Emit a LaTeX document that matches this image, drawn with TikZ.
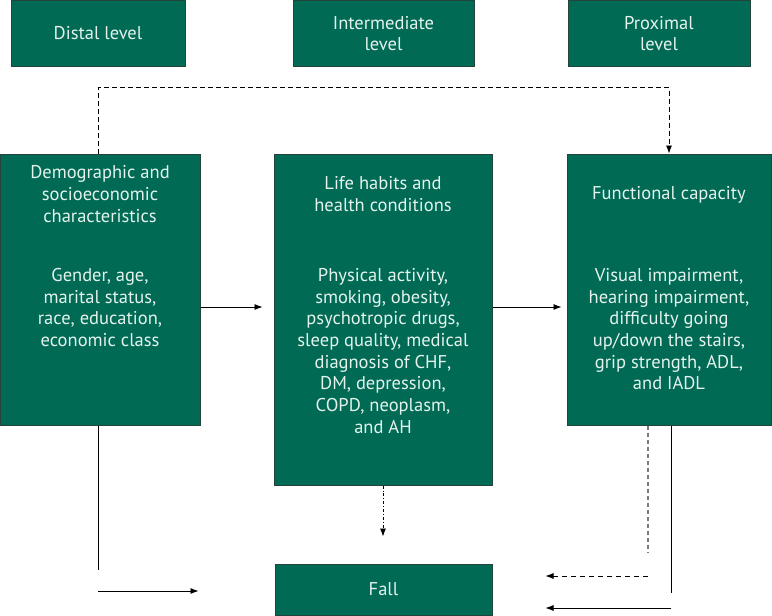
\documentclass[tikz,border=0pt]{standalone}
\usepackage{fontspec}
\setmainfont{PT Sans}
\usepackage{tikz}
\usetikzlibrary{arrows.meta, calc}
\usepackage{xcolor}
\definecolor{pine}{HTML}{006A55}
\definecolor{pineline}{HTML}{23443A}
\definecolor{mint}{HTML}{E4F3EC}
\definecolor{ash}{HTML}{7A7A7A}

\tikzset{
  levelbox/.style={draw=pineline, fill=pine, line width=1pt, text=mint, align=center, inner sep=0pt, font=\fontsize{18.5}{21.7}\selectfont},
  boxtext/.style={text=mint, align=center, inner sep=0pt, font=\fontsize{18.5}{21.7}\selectfont},
  arr/.style={-{Latex[length=8pt,width=6pt]}, line width=0.8pt},
}

\begin{document}
\begin{tikzpicture}[x=1pt, y=-1pt]
    \useasboundingbox (0,0) rectangle (772,616);

    % level headings
    \node[levelbox, minimum width=174pt, minimum height=66pt] (distal) at (98,33) {Distal level};
    \node[levelbox, minimum width=181pt, minimum height=66pt] (inter) at (383.5,33.5) {Intermediate\\level};
    \node[levelbox, minimum width=182pt, minimum height=66pt] (prox) at (659,33.5) {Proximal\\level};

    % main blocks
    \node[levelbox, minimum width=200pt, minimum height=271pt] (demo) at (100,289.5) {};
    \node[levelbox, minimum width=218pt, minimum height=331pt] (life) at (383,319.5) {};
    \node[levelbox, minimum width=204pt, minimum height=271pt] (func) at (669,289.5) {};
    \node[levelbox, minimum width=217pt, minimum height=51pt] (fall) at (383.5,589.5) {Fall};

    \node[boxtext] (demohead) at (100,194) {Demographic and\\socioeconomic\\characteristics};
    \node[boxtext, anchor=north] (demobody) at (100,268) {Gender, age,\\marital status,\\race, education,\\economic class};
    \node[boxtext] (lifehead) at (383,194) {Life habits and\\health conditions};
    \node[boxtext, anchor=north] (lifebody) at (383,268) {Physical activity,\\smoking, obesity,\\psychotropic drugs,\\sleep quality, medical\\diagnosis of CHF,\\DM, depression,\\COPD, neoplasm,\\and AH};
    \node[boxtext] (funchead) at (669,195) {Functional capacity};
    \node[boxtext, anchor=north] (funcbody) at (669,268) {Visual impairment,\\hearing impairment,\\difficulty going\\up/down the stairs,\\grip strength, ADL,\\and IADL};

    % connectors
    \coordinate (row) at (0,307);
    \coordinate (leftend) at (98,570);
    \coordinate (leftarr) at (98,591);
    \coordinate (dotend) at (648,553);
    \coordinate (dasharr) at (648,576);
    \coordinate (solidend) at (671,593);
    \coordinate (solidarr) at (671,608);

    \draw[arr, dashed, dash pattern=on 5pt off 3pt] ([xshift=-2pt]demo.north) -- ++(0,-66) -| (func.north);
    \draw[arr, shorten >=11pt] (demo.east |- row) -- (life.west |- row);
    \draw[arr, shorten >=5pt] (life.east |- row) -- (func.west |- row);
    \draw[arr, dash dot, shorten >=27pt] (life.south) -- (life.south |- fall.north);

    \draw[line width=0.8pt] (demo.south -| leftend) -- (leftend);
    \draw[arr, shorten >=76pt] (leftarr) -- (fall.west |- leftarr);

    \draw[ash, line width=1.6pt, dash pattern=on 4pt off 3pt] (func.south -| dotend) -- (dotend);
    \draw[arr, dash pattern=on 5pt off 4pt, shorten >=53pt] (dasharr) -- (fall.east |- dasharr);
    \draw[line width=0.8pt] (func.south -| solidend) -- (solidend);
    \draw[arr, shorten >=53pt] (solidarr) -- (fall.east |- solidarr);
\end{tikzpicture}
\end{document}
